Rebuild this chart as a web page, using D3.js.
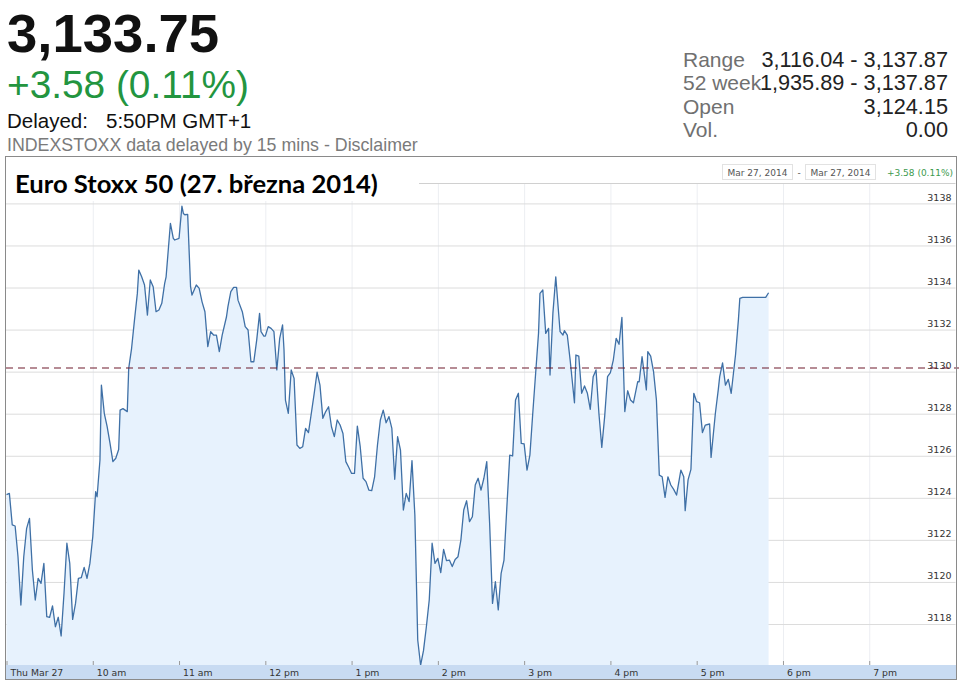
<!DOCTYPE html>
<html><head><meta charset="utf-8">
<script src="https://cdn.jsdelivr.net/npm/d3@7/dist/d3.min.js"></script>
<style>
html,body{margin:0;padding:0;background:#fff;}
svg{display:block;}
</style></head>
<body>
<svg id="c" width="961" height="683"></svg>
<script>
// ---- data ----
const quote = "3,133.75";
const change = "+3.58 (0.11%)";
const delayedLabel = "Delayed:";
const delayedTime = "5:50PM GMT+1";
const disclaimer = "INDEXSTOXX data delayed by 15 mins - Disclaimer";
const statLabels = ["Range", "52 week", "Open", "Vol."];
const statValues = ["3,116.04 - 3,137.87", "1,935.89 - 3,137.87", "3,124.15", "0.00"];
const chartTitle = "Euro Stoxx 50 (27. března 2014)";
const rangeLabels = ["Mar 27, 2014", "Mar 27, 2014"];
const prevClose = 3130.17;
const yTicks = [3118, 3120, 3122, 3124, 3126, 3128, 3130, 3132, 3134, 3136, 3138];
const xTickHours = [9, 10, 11, 12, 13, 14, 15, 16, 17, 18, 19];
const xTickLabels = ["Thu Mar 27", "10 am", "11 am", "12 pm", "1 pm", "2 pm", "3 pm", "4 pm", "5 pm", "6 pm", "7 pm"];
// minutes after 09:00 and index level
const minutes = [0,2,4,6,8,10,12,14,16,18,20,22,24,26,28,30,32,34,36,38,40,42,44,46,48,50,52,54,56,58,
60,62,63,65,66,68,70,72,74,76,78,79,81,84,85,87,89,91,92,94,96,98,100,102,104,106,108,110,111,114,
116,117,120,122,123,124,126,128,129,132,134,136,138,140,142,144,146,148,150,153,154,156,158,160,161,164,166,168,170,172,
174,176,177,179,180,182,184,186,188,190,192,193,194,196,198,200,202,204,206,208,210,212,214,216,218,220,222,224,226,228,
230,232,234,236,238,240,242,244,246,248,250,252,254,256,258,260,262,264,266,268,270,272,274,276,278,280,282,284,286,288,
290,292,294,296,298,300,302,304,306,308,310,312,314,316,318,320,322,324,326,328,330,332,334,336,338,340,342,344,346,348,
350,352,354,356,358,360,362,364,366,368,370,371,373,375,377,378,380,382,385,387,388,390,392,395,396,398,400,402,404,406,
408,410,412,414,416,418,420,422,424,426,428,430,432,434,436,439,440,442,445,446,448,450,452,454,456,458,460,462,464,466,
469,471,472,474,476,478,480,482,484,486,489,490,493,495,496,498,500,502,504,507,509,510,512,516,520,524,528,530];
const values = [3124.15,3124.21,3122.71,3122.66,3121.20,3118.90,3121.20,3122.55,3123.02,3120.57,3119.14,3120.17,3119.93,3120.88,3118.35,3118.32,3118.86,3117.87,3118.32,3117.43,3119.46,3121.84,3120.88,3118.22,3118.98,3120.17,3120.20,3120.69,3120.17,3120.88,
3122.15,3124.29,3124.05,3125.80,3129.36,3128.02,3127.38,3126.59,3125.72,3125.88,3126.30,3128.17,3128.24,3128.10,3130.16,3131.11,3132.45,3133.72,3134.83,3134.51,3134.12,3132.69,3134.36,3134.04,3132.85,3132.93,3133.25,3134.20,3134.51,3137.05,
3136.34,3136.26,3136.34,3137.87,3137.52,3137.46,3137.48,3134.04,3133.64,3134.12,3133.96,3133.32,3132.85,3131.19,3131.90,3131.74,3131.74,3130.95,3131.74,3132.61,3133.09,3133.80,3134.01,3134.01,3133.40,3132.85,3132.14,3131.98,3130.47,3130.47,
3131.50,3132.77,3131.90,3131.69,3131.69,3132.14,3132.06,3131.90,3130.08,3131.58,3132.22,3131.03,3128.65,3128.02,3130.08,3129.68,3126.51,3126.35,3126.43,3127.30,3127.10,3128.02,3128.97,3129.97,3129.36,3127.78,3128.10,3128.33,3127.38,3126.91,
3127.70,3127.46,3127.06,3125.72,3125.45,3125.16,3125.16,3127.41,3126.43,3124.93,3124.77,3124.37,3124.34,3125.00,3126.51,3127.70,3128.17,3127.57,3127.86,3127.30,3124.88,3126.91,3126.27,3123.42,3124.21,3123.82,3125.77,3123.18,3117.24,3116.04,
3116.73,3117.87,3119.14,3121.84,3120.88,3121.12,3120.44,3121.55,3121.01,3121.04,3120.73,3121.07,3121.20,3121.99,3123.42,3123.86,3122.87,3123.10,3124.61,3124.93,3124.37,3124.93,3125.72,3122.79,3118.98,3120.01,3118.67,3120.41,3121.04,3123.58,
3126.03,3125.99,3128.65,3128.97,3126.59,3126.56,3125.32,3126.03,3128.02,3129.92,3131.82,3133.72,3133.88,3131.82,3132.06,3129.84,3132.77,3134.51,3131.90,3131.74,3131.95,3131.74,3130.55,3128.52,3130.79,3130.74,3128.97,3129.32,3128.97,3128.21,
3129.76,3130.08,3128.02,3126.40,3127.86,3129.76,3129.95,3130.55,3131.58,3131.30,3132.58,3128.10,3129.09,3128.65,3128.52,3129.52,3129.52,3130.71,3129.13,3130.95,3130.74,3130.00,3128.65,3125.08,3125.00,3124.02,3125.00,3124.61,3124.40,3124.13,
3125.32,3125.00,3123.39,3124.85,3125.35,3128.97,3128.57,3128.52,3127.10,3127.46,3127.51,3125.92,3128.02,3129.13,3129.76,3130.42,3129.36,3129.63,3128.97,3130.79,3132.45,3133.48,3133.53,3133.53,3133.53,3133.53,3133.53,3133.75];

// ---- drawing ----
const svg = d3.select("#c");
const SANS = "'Liberation Sans', Arial, sans-serif";
const VERD = "'DejaVu Sans', Verdana, sans-serif";

const day = new Date(2014, 2, 27, 9, 0);
const t = m => new Date(day.getTime() + m * 60000);
const data = minutes.map((m, i) => ({ d: t(m), v: values[i] }));

const plot = { left: 6, right: 955.5, top: 183, bottom: 665 };
const x = d3.scaleTime().domain([new Date(2014,2,27,9,0), new Date(2014,2,27,20,0)]).range([6.5, 955.5]);
const y = d3.scaleLinear().domain([3116.05, 3138.97]).range([plot.bottom, plot.top]);

// header
svg.append("text").attr("x", 7).attr("y", 52).attr("font-family", SANS).attr("font-weight", "bold")
  .attr("font-size", 54.5).attr("fill", "#111").text(quote);
svg.append("text").attr("x", 7).attr("y", 98).attr("font-family", SANS)
  .attr("font-size", 38.8).attr("fill", "#23953f").text(change);
svg.append("text").attr("x", 7).attr("y", 128).attr("font-family", SANS)
  .attr("font-size", 20.5).attr("fill", "#111").text(delayedLabel);
svg.append("text").attr("x", 106).attr("y", 128).attr("font-family", SANS)
  .attr("font-size", 20.5).attr("fill", "#111").text(delayedTime);
svg.append("text").attr("x", 7).attr("y", 151).attr("font-family", SANS)
  .attr("font-size", 17.8).attr("fill", "#7a7a7a").text(disclaimer);

const statRow = d3.scaleBand().domain(statLabels).range([47, 140]);
statLabels.forEach((lab, i) => {
  const by = statRow(lab) + 20;
  svg.append("text").attr("x", 683).attr("y", by).attr("font-family", SANS)
    .attr("font-size", 21).attr("fill", "#707070").text(lab);
  svg.append("text").attr("x", 948).attr("y", by).attr("font-family", SANS).attr("text-anchor", "end")
    .attr("font-size", 21.7).attr("fill", "#222").text(statValues[i]);
});

// chart frame background
svg.append("rect").attr("x", 5.5).attr("y", 156.5).attr("width", 951).attr("height", 523)
  .attr("fill", "#fff").attr("stroke", "none");

// vertical grid
const hours = xTickHours.map(h => new Date(2014, 2, 27, h, 0));
svg.append("g").attr("transform", `translate(0,${plot.bottom})`)
  .call(d3.axisBottom(x).tickValues(hours.slice(1)).tickSize(-(plot.bottom - plot.top)).tickFormat(""))
  .call(g => g.select(".domain").remove())
  .call(g => g.selectAll("line").attr("stroke", "#eceef2"));

// horizontal grid + y labels
svg.append("g").attr("transform", `translate(${plot.right},0)`)
  .call(d3.axisLeft(y).tickValues(yTicks).tickSize(plot.right - plot.left).tickFormat(d3.format("d")))
  .call(g => g.select(".domain").remove())
  .call(g => g.selectAll("line").attr("stroke", "#dcdcdc"))
  .call(g => g.selectAll("text").attr("x", -4).attr("dy", -3).attr("text-anchor", "end")
    .attr("font-family", VERD).attr("font-size", 9.5).attr("fill", "#333"));

// area + line
const area = d3.area().x(d => x(d.d)).y0(plot.bottom).y1(d => y(d.v));
const line = d3.line().x(d => x(d.d)).y(d => y(d.v));
svg.append("path").datum(data).attr("d", area).attr("fill", "#e7f2fd");
svg.append("path").datum(data).attr("d", line).attr("fill", "none")
  .attr("stroke", "#3f70a6").attr("stroke-width", 1.3).attr("stroke-linejoin", "round");

// previous close reference
svg.append("line").attr("x1", plot.left).attr("x2", 959).attr("y1", y(prevClose)).attr("y2", y(prevClose))
  .attr("stroke", "#6e1a2c").attr("stroke-width", 1.1).attr("stroke-dasharray", "7,5");

// plot top border line
svg.append("line").attr("x1", plot.left).attr("x2", plot.right).attr("y1", plot.top + 0.5).attr("y2", plot.top + 0.5)
  .attr("stroke", "#d0d0d0");

// title box
svg.append("rect").attr("x", 6).attr("y", 157).attr("width", 413).attr("height", 44).attr("fill", "#fff");
const title = svg.append("text").attr("x", 15).attr("y", 193).attr("font-family", "Lato, 'Open Sans', sans-serif")
  .attr("font-weight", "bold").attr("font-size", 25).attr("fill", "#000").text(chartTitle);
const tw = title.node().getComputedTextLength();
title.attr("font-size", 25 * 363 / tw);

// range legend (top right)
const legendX = [722, 805];
rangeLabels.forEach((lab, i) => {
  svg.append("rect").attr("x", legendX[i] + 0.5).attr("y", 164.5).attr("width", 70).attr("height", 15)
    .attr("fill", "#fff").attr("stroke", "#e2e2e2");
  svg.append("text").attr("x", legendX[i] + 35.5).attr("y", 176).attr("text-anchor", "middle")
    .attr("font-family", VERD).attr("font-size", 9).attr("fill", "#555").text(lab);
});
svg.append("text").attr("x", 799).attr("y", 176).attr("text-anchor", "middle")
  .attr("font-family", VERD).attr("font-size", 9).attr("fill", "#555").text("-");
svg.append("text").attr("x", 953).attr("y", 176).attr("text-anchor", "end")
  .attr("font-family", VERD).attr("font-size", 9).attr("fill", "#3c9a4e").text(change);

// x-axis band
svg.append("rect").attr("x", 6).attr("y", plot.bottom).attr("width", 950).attr("height", 14.5).attr("fill", "#c8dbf2");
svg.append("g").attr("transform", `translate(0,${plot.bottom})`)
  .call(d3.axisBottom(x).tickValues(hours).tickSize(-4).tickFormat((d, i) => xTickLabels[i]))
  .call(g => g.select(".domain").remove())
  .call(g => g.selectAll("line").attr("stroke", "#999"))
  .call(g => g.selectAll("text").attr("x", 3.5).attr("y", 11).attr("dy", 0).attr("text-anchor", "start")
    .attr("font-family", VERD).attr("font-size", 9.3).attr("fill", "#333"));

// frame
svg.append("rect").attr("x", 5.5).attr("y", 156.5).attr("width", 951).attr("height", 523)
  .attr("fill", "none").attr("stroke", "#8a8a8a");
</script>
</body></html>
